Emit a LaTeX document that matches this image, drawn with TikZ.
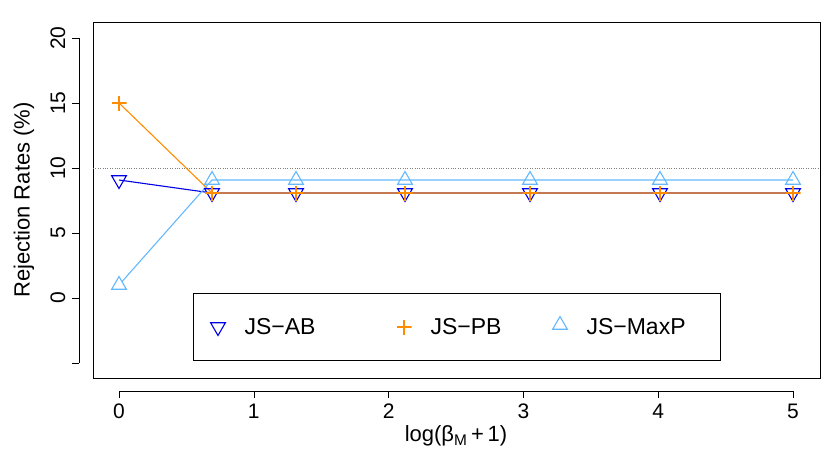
\documentclass[tikz,border=0pt]{standalone}
\usepackage{fontspec}
\setmainfont{Liberation Sans}
\usetikzlibrary{shapes.geometric}
\definecolor{cab}{RGB}{0,0,230}
\definecolor{cpb}{RGB}{255,140,0}
\definecolor{cmx}{RGB}{99,184,255}
\begin{document}
\begin{tikzpicture}[x=1pt,y=-1pt,
  up/.style={regular polygon,regular polygon sides=3,draw=cmx,line width=1.1pt,minimum size=17pt,inner sep=0pt,fill=white},
  dn/.style={regular polygon,regular polygon sides=3,shape border rotate=180,draw=cab,line width=1.1pt,minimum size=17pt,inner sep=0pt},
  pl/.style={inner sep=0pt,minimum size=15pt,path picture={\draw[cpb,line width=1.1pt] (path picture bounding box.north)--(path picture bounding box.south) (path picture bounding box.west)--(path picture bounding box.east);}},
  lab/.style={font=\fontsize{21}{24}\selectfont},
  leg/.style={font=\fontsize{23}{26}\selectfont},
  ser/.style={line width=1.1pt}]
\useasboundingbox (0,0) rectangle (830,461);
\draw[line width=0.6pt] (93,22) rectangle (820,378);
\draw[dotted,gray] (93,168) -- (820,168);
% y axis
\draw (79,38)--(79,363);
\foreach \v/\y in {20/38,15/103,10/168,5/233,0/298,-5/363}{\draw (79,\y)--(72,\y);}
\foreach \v/\y in {20/38,15/103,10/168,5/233,0/298}{\node[lab,rotate=90] (yl\v) at (58,\y) {\v};}
\node[lab,rotate=90,font=\fontsize{22}{26}\selectfont] (ylab) at (24,200) {Rejection Rates (\%)};
% x axis
\draw (119,391)--(793,391);
\foreach \v in {0,...,5}{\pgfmathsetmacro\xx{119+134.8*\v}\draw (\xx,391)--(\xx,398); \node[lab] (xl\v) at (\xx,411) {\v};}
\node[font=\fontsize{22}{26}\selectfont] (xlab) at (456,436) {log(β\textsubscript{M}\,+\,1)};
% series
\def\xs{212,296,405,530,660,793}
\draw[cab,ser] (119,180) -- (212,193) -- (793,193);
\draw[cpb,ser] (119,103) -- (212,193) -- (793,193);
\draw[cmx,ser] (119,285) -- (212,180) -- (793,180);
\node[dn] (a0) at (119,180) {};
\node[pl] (b0) at (119,103) {};
\node[up] (c0) at (119,285) {};
\foreach \x [count=\i] in \xs{
  \node[dn] (a\i) at (\x,193) {};
  \node[pl] (b\i) at (\x,193) {};
  \node[up,fill=none] (c\i) at (\x,180) {};
}
% legend
\draw[line width=0.6pt] (193,293) rectangle (720,360);
\node[dn] (la) at (218,327) {};
\node[leg,anchor=west] (lta) at (241,327) {JS−AB};
\node[pl] (lb) at (404,327) {};
\node[leg,anchor=west] (ltb) at (427,327) {JS−PB};
\node[up] (lc) at (560,325) {};
\node[leg,anchor=west] (ltc) at (583,327) {JS−MaxP};
\end{tikzpicture}
\end{document}
